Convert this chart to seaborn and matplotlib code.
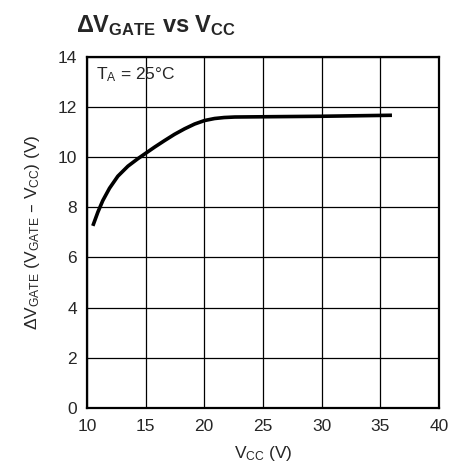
import numpy as np
import pandas as pd
import matplotlib
matplotlib.use("Agg")
import matplotlib.pyplot as plt
import seaborn as sns

# curve
vcc = [10.51, 10.94, 11.36, 11.93, 12.64, 13.5, 14.35, 15.06, 15.77, 16.62,
       17.47, 18.33, 19.18, 20.03, 20.88, 21.7, 22.6, 25.0, 30.0, 36.0]
dv_gate = [7.26, 7.81, 8.27, 8.76, 9.24, 9.64, 9.94, 10.17, 10.4, 10.66,
           10.91, 11.13, 11.32, 11.46, 11.54, 11.58, 11.6, 11.61, 11.63, 11.67]

x_ticks = [10, 15, 20, 25, 30, 35, 40]
y_ticks = [0, 2, 4, 6, 8, 10, 12, 14]

df = pd.DataFrame({"vcc": vcc, "dv": dv_gate})

sns.set_style("white")
FONT = ["Liberation Sans Narrow", "Liberation Sans", "DejaVu Sans"]
plt.rcParams["font.family"] = FONT
plt.rcParams["mathtext.default"] = "regular"
plt.rcParams["lines.solid_capstyle"] = "butt"

fig = plt.figure(figsize=(4.62, 4.62), dpi=100)
ax = fig.add_axes([0.188, 0.117, 0.762, 0.760])

sns.lineplot(data=df, x="vcc", y="dv", ax=ax, color="black", linewidth=2.6,
             sort=False, estimator=None)

ax.set_xlim(10, 40)
ax.set_ylim(0, 14)
ax.set_xticks(x_ticks)
ax.set_yticks(y_ticks)
ax.tick_params(axis="both", labelsize=12.5, length=0)
ax.tick_params(axis="x", pad=8)
ax.tick_params(axis="y", pad=7)
ax.grid(True, color="black", linewidth=0.9)
for s in ax.spines.values():
    s.set_color("black")
    s.set_linewidth(1.6)

ax.set_xlabel("$V_{CC}$ (V)", fontsize=12.5, labelpad=7)
ax.set_ylabel(r"$\Delta V_{GATE}$ ($V_{GATE}$ – $V_{CC}$) (V)", fontsize=12.5, labelpad=11)
ax.text(10.8, 13.3, "$T_A$ = 25°C", fontsize=12.5, va="center", ha="left")

fig.text(0.165, 0.945, r"$\Delta V_{GATE}$ vs $V_{CC}$", fontsize=17, fontweight="bold",
         ha="left", va="center")

fig.savefig("out.png", dpi=100)
